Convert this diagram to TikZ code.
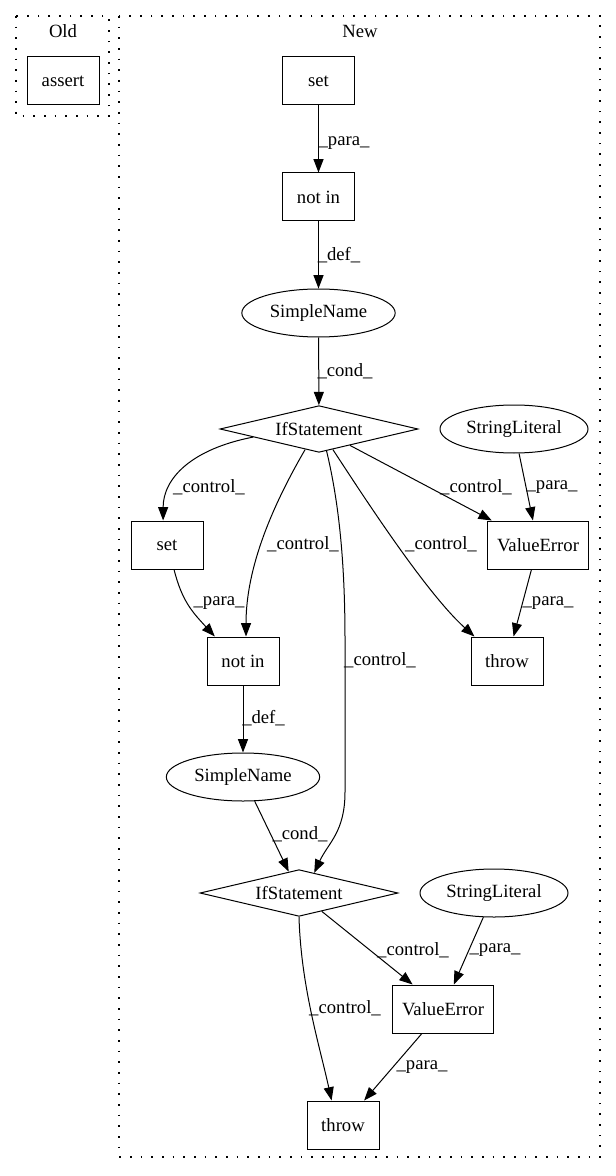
\documentclass[tikz,border=0pt]{standalone}
\usepackage{fontspec}
\setmainfont{Liberation Serif}
\usetikzlibrary{shapes.geometric, arrows.meta}

\begin{document}
\begin{tikzpicture}[
    x=0.75pt, y=-0.75pt,
    >={Triangle[length=10pt,width=7.5pt]},
    every node/.style={font=\fontsize{14}{16}\selectfont},
    op node/.style={draw,line width=0.75pt,rectangle,minimum width=54pt,minimum height=36pt,inner sep=0pt},
    wide node/.style={op node,minimum width=75.75pt},
    name node/.style={draw,line width=0.75pt,ellipse,minimum width=115pt,minimum height=36pt,inner sep=0pt},
    literal node/.style={name node,minimum width=111pt},
    cond node/.style={draw,line width=0.75pt,diamond,aspect=4.2,minimum width=148.5pt,minimum height=35pt,inner sep=0pt},
    cluster box/.style={line width=0.9pt,dash pattern=on 1.2pt off 6.8pt},
    flow link/.style={->,line width=0.75pt},
    edge label/.style={inner sep=0pt}
    ]
    \useasboundingbox (0,0) rectangle (616,1176);
    % clusters
    \draw [cluster box] (16,16) rectangle (109,116);
    \node (old label) at (63,31) {Old};
    \draw [cluster box] (119,16) rectangle (600,1157);
    \node (new label) at (360,31) {New};
    % nodes
    % old
    \node [op node] (assert) at (63,81) {assert};
    % new, first check
    \node [op node] (set1) at (318.5,81) {set};
    \node [op node] (notin1) at (318.5,197) {not in};
    \node [name node] (name1) at (318.5,313) {SimpleName};
    \node [cond node] (if1) at (319,429) {IfStatement};
    \node [literal node] (str1) at (514,429) {StringLiteral};
    \node [wide node] (err1) at (538,545) {ValueError};
    \node [op node] (throw1) at (507,661) {throw};
    % new, second check
    \node [op node] (set2) at (167,545) {set};
    \node [op node] (notin2) at (243,661) {not in};
    \node [name node] (name2) at (243,777) {SimpleName};
    \node [cond node] (if2) at (299,893) {IfStatement};
    \node [literal node] (str2) at (494,893) {StringLiteral};
    \node [wide node] (err2) at (443,1009) {ValueError};
    \node [op node] (throw2) at (343,1125) {throw};
    % edges
    % set 1 - not in 1 - if 1
    \draw [flow link] (set1) -- (notin1);
    \node [edge label] (l para1) at (344,143) {\_para\_};
    \draw [flow link] (notin1) -- (name1);
    \node [edge label] (l def1) at (339,255) {\_def\_};
    \draw [flow link] (name1) -- (if1);
    \node [edge label] (l cond1) at (345,371) {\_cond\_};
    % if 1 - control
    \draw [flow link] (if1.187) .. controls +(-62,12) and +(0,-42) .. (set2.99);
    \node [edge label] (l ctrl1) at (209,487) {\_control\_};
    \draw [flow link] (if1.236) .. controls +(-32,55) and +(0,-70) .. (notin2.83);
    \node [edge label] (l ctrl2) at (303,544) {\_control\_};
    \coordinate (bend top) at (345,640);
    \coordinate (bend bottom) at (345,792);
    \draw [flow link] (if1.289) .. controls +(12,50) and +(0,-80) .. (bend top)
        -- (bend bottom) .. controls +(0,40) and +(14,-30) .. (if2.53);
    \node [edge label] (l ctrl3) at (380,660) {\_control\_};
    \draw [flow link] (if1.304) .. controls +(25,38) and +(-50,-45) .. (throw1.143);
    \node [edge label] (l ctrl4) at (441,544) {\_control\_};
    \draw [flow link] (if1) -- (err1);
    \node [edge label] (l ctrl5) at (476,487) {\_control\_};
    % if 1 - error 1 - throw 1
    \draw [flow link] (str1) -- (err1);
    \node [edge label] (l para2) at (552,487) {\_para\_};
    \draw [flow link] (err1) -- (throw1);
    \node [edge label] (l para3) at (548,603) {\_para\_};
    % set 2 - not in 2 - if 2
    \draw [flow link] (set2.286) .. controls +(8,32) and +(-22,-24) .. (notin2.139);
    \node [edge label] (l para4) at (219,603) {\_para\_};
    \draw [flow link] (notin2) -- (name2);
    \node [edge label] (l def2) at (263.5,718) {\_def\_};
    \draw [flow link] (name2) -- (if2);
    \node [edge label] (l cond2) at (300,834) {\_cond\_};
    % if 2 - error 2 - throw 2
    \draw [flow link] (if2) -- (err2);
    \node [edge label] (l ctrl6) at (413,950) {\_control\_};
    \draw [flow link] (str2) -- (err2);
    \node [edge label] (l para5) at (495,950) {\_para\_};
    \draw [flow link] (if2.south) .. controls +(2,70) and +(-12,-55) .. (throw2.115);
    \node [edge label] (l ctrl7) at (345,1008) {\_control\_};
    \draw [flow link] (err2) -- (throw2);
    \node [edge label] (l para6) at (422,1067) {\_para\_};
\end{tikzpicture}
\end{document}
